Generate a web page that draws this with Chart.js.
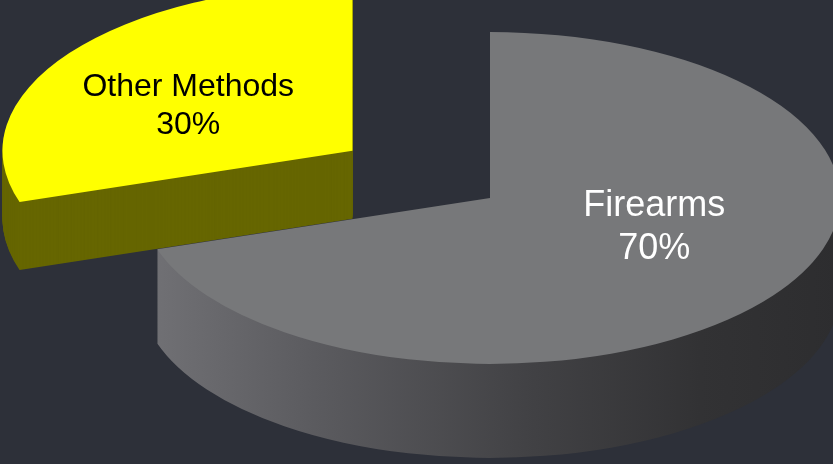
<!DOCTYPE html>
<html lang="en">
<head>
<meta charset="UTF-8">
<title>Firearms vs Other Methods</title>
<script src="https://cdn.jsdelivr.net/npm/chart.js"></script>
<style>
  html, body { margin: 0; padding: 0; background: #2d3039; overflow: hidden; }
  canvas { display: block; }
</style>
</head>
<body>
<canvas id="pie3d" width="833" height="464"></canvas>
<script>
  const labels = ['Firearms', 'Other Methods'];
  const shares = [70, 30];

  // look of the slices
  const topColors = ['#77787a', '#ffff00'];
  const textColors = ['#ffffff', '#000000'];
  const textSizes = [36, 32];
  const explode = [0, 170];     // how far each slice is pulled out
  const depth = [94, 68];       // thickness of each slice
  const tilt = 0.474;           // vertical squash of the disc
  const labelNudge = [-27, 12];

  function sideFill(ctx, arc, i) {
    if (i === 1) return '#666600';
    const g = ctx.createLinearGradient(arc.x - arc.outerRadius, 0, arc.x + arc.outerRadius, 0);
    g.addColorStop(0, '#727276');
    g.addColorStop(0.25, '#5b5b5f');
    g.addColorStop(0.55, '#424245');
    g.addColorStop(0.8, '#323234');
    g.addColorStop(1, '#2d2d2f');
    return g;
  }

  // draws one arc squashed into an ellipse, shifted by dx/dy on screen
  function drawFlat(ctx, arc, fill, dx, dy) {
    const ghost = Object.create(arc);
    ghost.options = Object.assign({}, arc.options, { backgroundColor: fill });
    ctx.save();
    ctx.translate(arc.x + dx, arc.y + dy);
    ctx.scale(1, tilt);
    ctx.translate(-arc.x, -arc.y);
    ghost.draw(ctx);
    ctx.restore();
  }

  function shift(arc, i) {
    const mid = (arc.startAngle + arc.endAngle) / 2;
    return [Math.cos(mid) * explode[i], Math.sin(mid) * explode[i] * tilt];
  }

  const pie3dPlugin = {
    id: 'pie3d',
    beforeDatasetsDraw(chart) {
      const ctx = chart.ctx;
      const arcs = chart.getDatasetMeta(0).data;
      // back slice first so the big one sits in front
      for (let i = arcs.length - 1; i >= 0; i--) {
        const arc = arcs[i];
        const [dx, dy] = shift(arc, i);
        const side = sideFill(ctx, arc, i);
        for (let d = depth[i]; d > 0; d--) {
          drawFlat(ctx, arc, side, dx, dy + d);
        }
        drawFlat(ctx, arc, arc.options.backgroundColor, dx, dy);
      }
      return false;
    },
    afterDraw(chart) {
      const ctx = chart.ctx;
      const arcs = chart.getDatasetMeta(0).data;
      arcs.forEach((arc, i) => {
        const [dx, dy] = shift(arc, i);
        const mid = (arc.startAngle + arc.endAngle) / 2;
        const r = arc.outerRadius * 0.58;
        const x = arc.x + dx + Math.cos(mid) * r;
        const y = arc.y + dy + Math.sin(mid) * r * tilt + labelNudge[i];
        const lh = textSizes[i] * 1.17;
        ctx.save();
        ctx.font = textSizes[i] + 'px "Liberation Sans", Arial, sans-serif';
        ctx.fillStyle = textColors[i];
        ctx.textAlign = 'center';
        ctx.textBaseline = 'middle';
        ctx.fillText(labels[i], x, y - lh / 2);
        ctx.fillText(shares[i] + '%', x, y + lh / 2);
        ctx.restore();
      });
    }
  };

  const ctx = document.getElementById('pie3d').getContext('2d');
  new Chart(ctx, {
    type: 'pie',
    data: {
      labels: labels,
      datasets: [{
        data: shares,
        backgroundColor: topColors,
        borderWidth: 0,
        radius: 350,
        clip: false
      }]
    },
    options: {
      responsive: false,
      devicePixelRatio: 1,
      animation: false,
      events: [],
      layout: { padding: { left: 147, right: 0, top: 0, bottom: 68 } },
      plugins: {
        legend: { display: false },
        tooltip: { enabled: false }
      }
    },
    plugins: [pie3dPlugin]
  });
</script>
</body>
</html>
